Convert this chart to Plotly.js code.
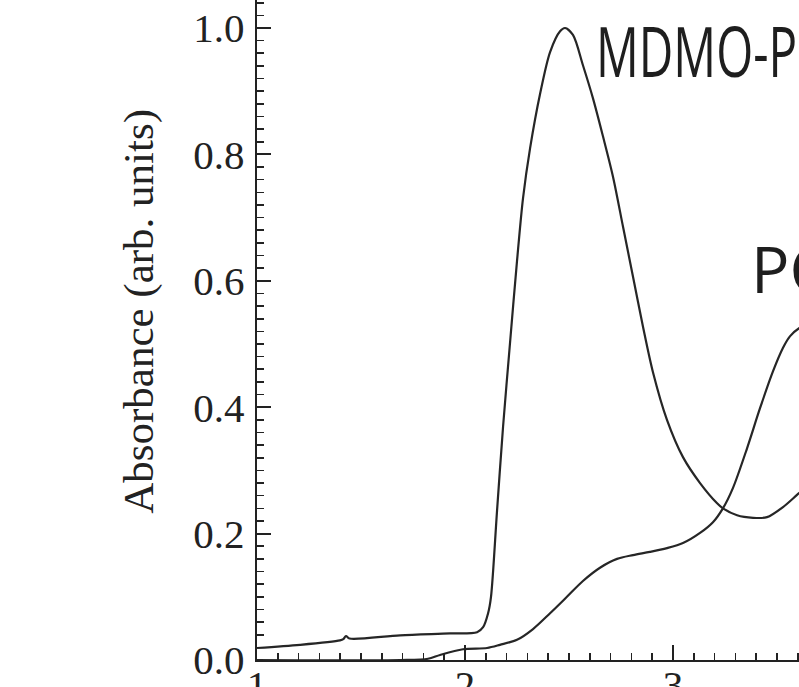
<!DOCTYPE html>
<html>
<head>
<meta charset="utf-8">
<script src="https://cdn.plot.ly/plotly-3.0.1.min.js"></script>
<style>
html, body { margin: 0; padding: 0; overflow: hidden; background: #fff; width: 799px; height: 687px; }
#chart { position: absolute; left: 0; top: 0; }
</style>
</head>
<body>
<div id="chart"></div>
<script>
// Photon energy (eV) and absorbance
const energyMdmo = [1.000, 1.207, 1.399, 1.415, 1.428, 1.445, 1.688, 1.928, 2.058, 2.087, 2.111, 2.125, 2.154, 2.183, 2.216, 2.250, 2.279, 2.313, 2.361, 2.409, 2.457, 2.481, 2.519, 2.567, 2.615, 2.663, 2.712, 2.760, 2.808, 2.856, 2.904, 2.971, 3.048, 3.130, 3.212, 3.240, 3.308, 3.385, 3.452, 3.529, 3.606, 3.660];
const absMdmo    = [0.019, 0.024, 0.031, 0.033, 0.038, 0.034, 0.039, 0.042, 0.044, 0.052, 0.074, 0.100, 0.236, 0.369, 0.500, 0.631, 0.731, 0.810, 0.896, 0.962, 0.995, 1.000, 0.989, 0.941, 0.889, 0.829, 0.764, 0.685, 0.606, 0.527, 0.455, 0.380, 0.321, 0.280, 0.248, 0.240, 0.229, 0.225, 0.226, 0.242, 0.264, 0.278];

const energyPcbm = [1.000, 1.688, 1.822, 1.880, 1.990, 2.106, 2.168, 2.250, 2.327, 2.409, 2.490, 2.567, 2.649, 2.731, 2.808, 2.889, 2.971, 3.048, 3.130, 3.192, 3.240, 3.288, 3.356, 3.418, 3.481, 3.529, 3.562, 3.606, 3.659];
const absPcbm    = [0.000, 0.000, 0.002, 0.008, 0.017, 0.019, 0.024, 0.032, 0.049, 0.074, 0.100, 0.125, 0.146, 0.160, 0.166, 0.171, 0.177, 0.185, 0.201, 0.218, 0.240, 0.272, 0.335, 0.398, 0.457, 0.494, 0.512, 0.525, 0.532];

const yTickVals = [0.0, 0.2, 0.4, 0.6, 0.8, 1.0];
const yTickText = ['0.0', '0.2', '0.4', '0.6', '0.8', '1.0'];
const xTickVals = [1, 2, 3, 4, 5];
const xTickText = ['1', '2', '3', '4', '5'];
const labels = ['MDMO-PPV', 'PCBM'];
const yTitle = 'Absorbance (arb. units)';

const lineStyle = {color: '#262626', width: 2.2, shape: 'spline', smoothing: 0.85};

const traces = [
  {x: energyMdmo, y: absMdmo, type: 'scatter', mode: 'lines', line: lineStyle, hoverinfo: 'skip'},
  {x: energyPcbm, y: absPcbm, type: 'scatter', mode: 'lines', line: lineStyle, hoverinfo: 'skip'}
];

const W = 1100, H = 760;
const L = 257, T = 0, B = H - 660;
const pxPerX = 208, pxPerY = 632;

const serif = {family: 'Liberation Serif, Times New Roman, serif', color: '#222', size: 41};

const layout = {
  width: W, height: H,
  margin: {l: L, r: 0, t: T, b: B, pad: 0},
  paper_bgcolor: '#fff', plot_bgcolor: '#fff',
  showlegend: false,
  xaxis: {
    range: [1, 1 + (W - L) / pxPerX],
    showgrid: false, zeroline: false,
    showline: true, linecolor: '#222', linewidth: 2.2,
    ticks: 'inside', ticklen: 15, tickwidth: 2, tickcolor: '#222',
    tickvals: xTickVals, ticktext: xTickText,
    tickfont: serif, ticklabelstandoff: -12,
    minor: {dtick: 0.1, ticks: 'inside', ticklen: 7, tickwidth: 1.6, tickcolor: '#222', showgrid: false}
  },
  yaxis: {
    range: [0, 660 / pxPerY],
    showgrid: false, zeroline: false,
    showline: true, linecolor: '#222', linewidth: 2.4,
    ticks: 'inside', ticklen: 14, tickwidth: 2, tickcolor: '#222',
    tickvals: yTickVals, ticktext: yTickText,
    tickfont: serif, ticklabelstandoff: 2,
    minor: {dtick: 0.02, ticks: 'inside', ticklen: 7, tickwidth: 1.6, tickcolor: '#222', showgrid: false}
  },
  annotations: [
    {text: labels[0], xref: 'x', yref: 'y', x: 2.62, y: 0.965, xanchor: 'left', yanchor: 'middle',
     showarrow: false, font: {family: 'Open Sans, Noto Sans, sans-serif', size: 70, color: '#1e1e1e'}},
    {text: labels[1], xref: 'x', yref: 'y', x: 3.365, y: 0.620, xanchor: 'left', yanchor: 'middle',
     showarrow: false, font: {family: 'Open Sans, Noto Sans, sans-serif', size: 64, color: '#1e1e1e'}},
    {text: yTitle, xref: 'paper', yref: 'y', x: 0, xshift: 139 - L, y: 0.551, xanchor: 'center', yanchor: 'middle',
     textangle: -90, showarrow: false, font: {family: 'Liberation Serif, Times New Roman, serif', size: 43, color: '#222'}}
  ]
};

Plotly.newPlot('chart', traces, layout, {staticPlot: true, displayModeBar: false}).then(function (gd) {
  const g = gd.querySelector('.annotation[data-index="0"] text.annotation-text');
  if (g) {
    g.style.transformBox = 'fill-box';
    g.style.transformOrigin = '0% 50%';
    g.style.transform = 'scaleX(0.68)';
  }
});
</script>
</body>
</html>
